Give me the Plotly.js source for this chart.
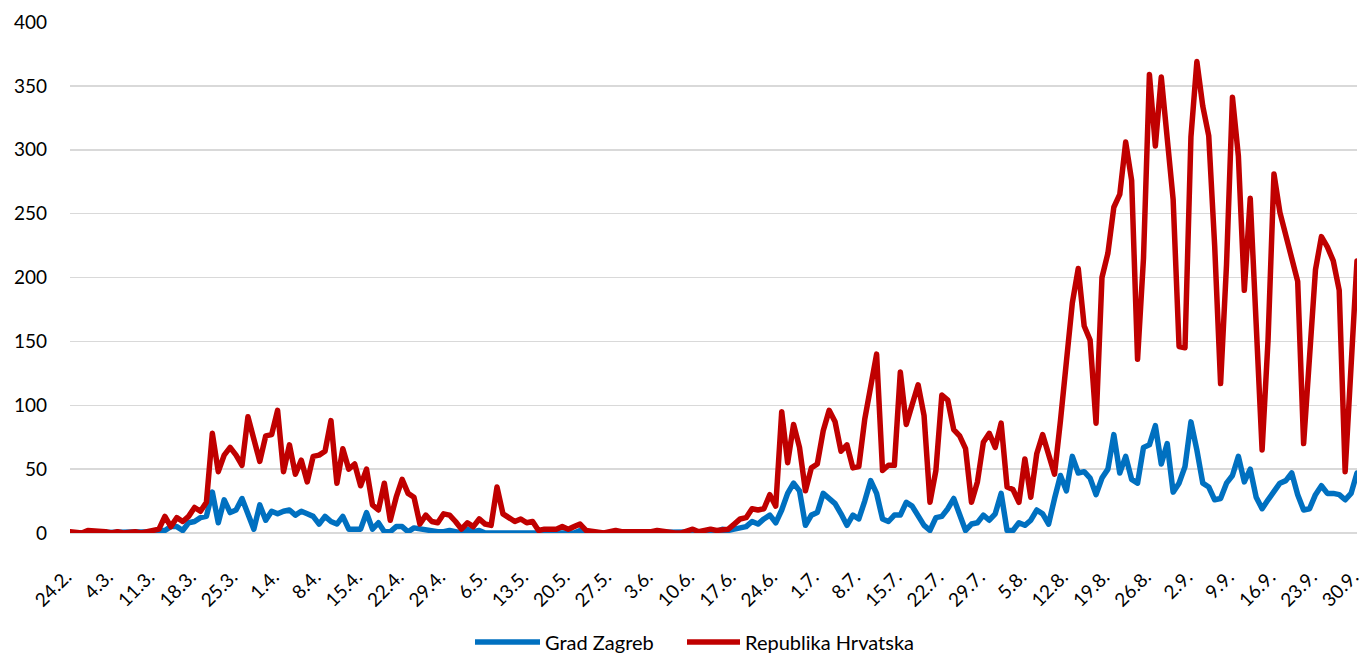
<!DOCTYPE html>
<html>
<head>
<meta charset="utf-8">
<script src="https://cdn.plot.ly/plotly-3.0.1.min.js"></script>
<style>
html,body{margin:0;padding:0;background:#fff;}
#chart{width:1365px;height:655px;}
.scatterlayer path.js-line{stroke-linejoin:round;stroke-linecap:round;}
</style>
</head>
<body>
<div id="chart"></div>
<script>
const tickLabels = ["24.2.","4.3.","11.3.","18.3.","25.3.","1.4.","8.4.","15.4.","22.4.","29.4.","6.5.","13.5.","20.5.","27.5.","3.6.","10.6.","17.6.","24.6.","1.7.","8.7.","15.7.","22.7.","29.7.","5.8.","12.8.","19.8.","26.8.","2.9.","9.9.","16.9.","23.9.","30.9."];
const tickPositions = [0,7,14,21,28,35,42,49,56,63,70,77,84,91,98,105,112,119,126,133,140,147,154,161,168,175,182,189,196,203,210,217];

const gradZagreb = [
0,0,0,0,1,0,0,0,0,0,0,0,1,1,1,2,2,5,5,2,
8,9,12,13,32,8,26,16,18,27,16,3,22,10,17,15,17,18,14,17,
15,13,7,13,9,7,13,3,3,3,16,3,8,1,1,5,5,1,4,3,
2,1,1,1,2,1,0,3,1,2,0,0,0,0,0,0,0,1,1,0,
0,0,0,0,1,0,2,0,0,0,0,0,0,0,0,0,0,0,0,0,
0,0,0,0,0,0,1,1,0,1,3,2,3,4,5,9,7,11,14,8,
18,31,39,33,6,14,16,31,27,23,15,6,14,11,25,41,31,11,9,14,
14,24,21,14,6,2,12,13,19,27,13,2,7,8,14,10,15,31,2,2,
8,6,10,18,15,7,27,45,33,60,47,48,43,30,43,50,77,47,60,42,
39,67,69,84,54,70,32,39,52,87,65,39,36,26,27,39,45,60,40,50,
28,19,26,32,39,41,47,30,18,19,30,37,31,31,30,26,31,47
];

const republikaHrvatska = [
1,1,0,2,2,1,1,0,1,0,1,1,0,1,3,3,13,5,12,9,
13,20,17,24,78,48,61,67,61,53,91,73,56,76,77,96,48,69,46,57,
40,60,61,64,88,39,66,50,54,37,50,22,18,39,10,28,42,31,28,7,
14,9,8,15,14,9,3,8,5,11,7,6,36,15,12,9,11,8,9,2,
3,3,3,5,3,5,7,2,1,1,0,1,2,1,1,0,1,0,1,2,
1,0,0,0,1,3,1,2,3,2,3,3,7,11,12,19,18,19,30,21,
95,55,85,67,33,51,54,80,96,87,64,69,51,52,89,112,140,49,53,53,
126,85,99,116,92,24,49,108,104,81,76,66,24,40,71,78,67,86,36,34,
24,58,28,62,77,62,46,88,133,180,207,162,151,86,200,219,255,265,306,276,
136,215,359,303,357,311,261,146,145,310,369,334,311,225,117,210,341,295,190,262,
160,65,151,281,251,232,213,197,70,143,206,232,224,213,190,48,140,213
];

const xIdx = gradZagreb.map((_, i) => i);

const traces = [
  {x: xIdx, y: gradZagreb, type: 'scatter', mode: 'lines', name: 'Grad Zagreb',
   line: {color: '#0070C0', width: 5.5}, legend: 'legend'},
  {x: xIdx, y: republikaHrvatska, type: 'scatter', mode: 'lines', name: 'Republika Hrvatska',
   line: {color: '#C00000', width: 5.5}, legend: 'legend2'}
];

const legendCommon = {orientation: 'h', xanchor: 'left', yref: 'container', xref: 'container',
  y: 0.02, yanchor: 'middle', font: {size: 20, color: '#000'},
  bgcolor: 'rgba(0,0,0,0)'};

const layout = {
  width: 1365, height: 655,
  margin: {l: 70, r: 8, t: 22, b: 122, autoexpand: false},
  paper_bgcolor: '#fff', plot_bgcolor: '#fff',
  font: {family: 'Lato, "Open Sans", sans-serif', size: 18, color: '#000'},
  showlegend: true,
  legend: Object.assign({}, legendCommon, {x: 470 / 1365, itemwidth: 65}),
  legend2: Object.assign({}, legendCommon, {x: 682 / 1365, itemwidth: 53}),
  xaxis: {
    range: [0, 217], tickmode: 'array', tickvals: tickPositions, ticktext: tickLabels,
    tickangle: -45, showgrid: false, zeroline: false, showline: false, ticks: '',
    tickfont: {size: 19}, ticklabelstandoff: 28, ticklabelshift: -4,
    ticklabeloverflow: 'allow', automargin: false, fixedrange: true
  },
  yaxis: {
    range: [0, 400], dtick: 50, tick0: 0, showgrid: true, gridcolor: '#d9d9d9', gridwidth: 1.5,
    zeroline: true, zerolinecolor: '#d9d9d9', zerolinewidth: 1.5, showline: false, ticks: '',
    tickfont: {size: 19}, ticklabelstandoff: 22, automargin: false, fixedrange: true
  }
};

Plotly.newPlot('chart', traces, layout, {displayModeBar: false, staticPlot: true});
</script>
</body>
</html>
